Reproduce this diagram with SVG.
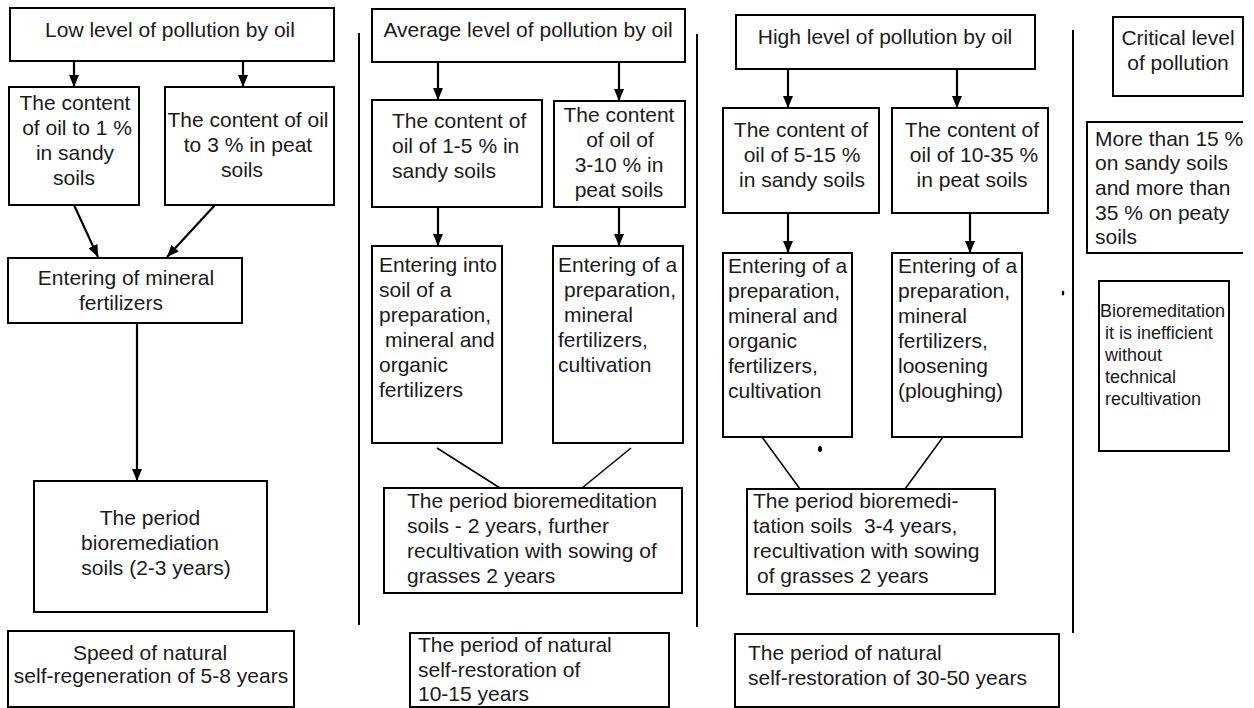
<svg xmlns="http://www.w3.org/2000/svg" width="1254" height="708" viewBox="0 0 1254 708">
<defs>
<marker id="ah" viewBox="0 0 12 10" refX="12" refY="5" markerWidth="12" markerHeight="10" markerUnits="userSpaceOnUse" orient="auto"><path d="M0,0 L12,5 L0,10 z" fill="#000"/></marker>
<style>
.b{fill:#fff;stroke:#000;stroke-width:2}
.t{font-family:"Liberation Sans",Arial,sans-serif;font-size:21px;fill:#1a1a1a}
.c{text-anchor:middle}
.s{font-size:18px}
.a{stroke:#000;stroke-width:2.2;fill:none;marker-end:url(#ah)}
.l{stroke:#000;stroke-width:1.5;fill:none}
.d{stroke:#000;stroke-width:2;fill:none}
</style>
</defs>
<rect width="1254" height="708" fill="#fff"/>
<g id="dividers">
<line class="d" x1="359" y1="33" x2="359" y2="625"/>
<line class="d" x1="697" y1="34" x2="697" y2="627"/>
<line class="d" x1="1073" y1="30" x2="1073" y2="633"/>
</g>
<g id="connectors">
<line class="a" x1="74" y1="61" x2="74" y2="87"/>
<line class="a" x1="243" y1="61" x2="243" y2="87"/>
<line class="a" x1="74" y1="205" x2="98" y2="257"/>
<line class="a" x1="215" y1="205" x2="167" y2="257"/>
<line class="a" x1="137" y1="323" x2="137" y2="481"/>
<line class="a" x1="438" y1="62" x2="438" y2="100"/>
<line class="a" x1="619" y1="62" x2="619" y2="101"/>
<line class="a" x1="438" y1="207" x2="438" y2="246"/>
<line class="a" x1="619" y1="207" x2="619" y2="246"/>
<line class="l" x1="437" y1="448" x2="500" y2="488"/>
<line class="l" x1="631" y1="448" x2="582" y2="488"/>
<line class="a" x1="788" y1="69" x2="788" y2="108"/>
<line class="a" x1="957" y1="69" x2="957" y2="108"/>
<line class="a" x1="788" y1="213" x2="788" y2="253"/>
<line class="a" x1="970" y1="213" x2="970" y2="253"/>
<line class="l" x1="762" y1="437" x2="800" y2="489"/>
<line class="l" x1="943" y1="437" x2="905" y2="489"/>
</g>
<g id="n_low"><rect class="b" x="10" y="8" width="324" height="53"/><text class="t c" x="170" y="37">Low level of pollution by oil</text></g>
<g id="n_low_sandy"><rect class="b" x="9" y="87" width="130" height="118"/><text class="t c"><tspan x="75" y="110">The content</tspan><tspan x="77" y="135">of oil to 1 %</tspan><tspan x="75" y="160">in sandy</tspan><tspan x="74" y="185">soils</tspan></text></g>
<g id="n_low_peat"><rect class="b" x="165" y="87" width="169" height="118"/><text class="t c"><tspan x="248" y="127">The content of oil</tspan><tspan x="248" y="152">to 3 % in peat</tspan><tspan x="242" y="177">soils</tspan></text></g>
<g id="n_low_fert"><rect class="b" x="8" y="258" width="234" height="65"/><text class="t c"><tspan x="126" y="285">Entering of mineral</tspan><tspan x="121" y="310">fertilizers</tspan></text></g>
<g id="n_low_period"><rect class="b" x="34" y="481" width="233" height="131"/><text class="t c"><tspan x="150" y="525">The period</tspan><tspan x="150" y="550">bioremediation</tspan><tspan x="156" y="575">soils (2-3 years)</tspan></text></g>
<g id="n_low_natural"><rect class="b" x="8" y="631" width="286" height="76"/><text class="t c"><tspan x="150" y="660">Speed of natural</tspan><tspan x="151" y="683">self-regeneration of 5-8 years</tspan></text></g>
<g id="n_avg"><rect class="b" x="372" y="9" width="313" height="53"/><text class="t c" x="528" y="37">Average level of pollution by oil</text></g>
<g id="n_avg_sandy"><rect class="b" x="372" y="100" width="170" height="107"/><text class="t"><tspan x="392" y="128">The content of</tspan><tspan x="392" y="153">oil of 1-5 % in</tspan><tspan x="392" y="178">sandy soils</tspan></text></g>
<g id="n_avg_peat"><rect class="b" x="554" y="101" width="131" height="106"/><text class="t c"><tspan x="619" y="122">The content</tspan><tspan x="620" y="147">of oil of</tspan><tspan x="619" y="172">3-10 % in</tspan><tspan x="619" y="197">peat soils</tspan></text></g>
<g id="n_avg_enter1"><rect class="b" x="372" y="246" width="130" height="197"/><text class="t"><tspan x="379" y="272">Entering into</tspan><tspan x="379" y="297">soil of a</tspan><tspan x="379" y="322">preparation,</tspan><tspan x="385" y="347">mineral and</tspan><tspan x="379" y="372">organic</tspan><tspan x="379" y="397">fertilizers</tspan></text></g>
<g id="n_avg_enter2"><rect class="b" x="553" y="246" width="130" height="197"/><text class="t"><tspan x="558" y="272">Entering of a</tspan><tspan x="564" y="297">preparation,</tspan><tspan x="564" y="322">mineral</tspan><tspan x="558" y="347">fertilizers,</tspan><tspan x="558" y="372">cultivation</tspan></text></g>
<g id="n_avg_period"><rect class="b" x="384" y="488" width="298" height="105"/><text class="t"><tspan x="407" y="508">The period bioremeditation</tspan><tspan x="407" y="533">soils - 2 years, further</tspan><tspan x="407" y="558">recultivation with sowing of</tspan><tspan x="407" y="583">grasses 2 years</tspan></text></g>
<g id="n_avg_natural"><rect class="b" x="410" y="633" width="259" height="74"/><text class="t"><tspan x="418" y="652">The period of natural</tspan><tspan x="418" y="677">self-restoration of</tspan><tspan x="418" y="701">10-15 years</tspan></text></g>
<g id="n_high"><rect class="b" x="736" y="15" width="299" height="54"/><text class="t c" x="885" y="44">High level of pollution by oil</text></g>
<g id="n_high_sandy"><rect class="b" x="723" y="108" width="156" height="105"/><text class="t c"><tspan x="801" y="137">The content of</tspan><tspan x="802" y="162">oil of 5-15 %</tspan><tspan x="802" y="187">in sandy soils</tspan></text></g>
<g id="n_high_peat"><rect class="b" x="892" y="108" width="156" height="105"/><text class="t c"><tspan x="972" y="137">The content of</tspan><tspan x="974" y="162">oil of 10-35 %</tspan><tspan x="972" y="187">in peat soils</tspan></text></g>
<g id="n_high_enter1"><rect class="b" x="723" y="253" width="129" height="184"/><text class="t"><tspan x="728" y="273">Entering of a</tspan><tspan x="728" y="298">preparation,</tspan><tspan x="728" y="323">mineral and</tspan><tspan x="728" y="348">organic</tspan><tspan x="728" y="373">fertilizers,</tspan><tspan x="728" y="398">cultivation</tspan></text></g>
<g id="n_high_enter2"><rect class="b" x="892" y="253" width="130" height="184"/><text class="t"><tspan x="898" y="273">Entering of a</tspan><tspan x="898" y="298">preparation,</tspan><tspan x="898" y="323">mineral</tspan><tspan x="898" y="348">fertilizers,</tspan><tspan x="898" y="373">loosening</tspan><tspan x="898" y="398">(ploughing)</tspan></text></g>
<g id="n_high_period"><rect class="b" x="747" y="489" width="248" height="105"/><text class="t" xml:space="preserve"><tspan x="753" y="508">The period bioremedi-</tspan><tspan x="753" y="533">tation soils  3-4 years,</tspan><tspan x="753" y="558">recultivation with sowing</tspan><tspan x="757" y="583">of grasses 2 years</tspan></text></g>
<g id="n_high_natural"><rect class="b" x="735" y="634" width="324" height="73"/><text class="t"><tspan x="748" y="660">The period of natural</tspan><tspan x="748" y="685">self-restoration of 30-50 years</tspan></text></g>
<g id="n_crit"><rect class="b" x="1113" y="17" width="130" height="79"/><text class="t c"><tspan x="1178" y="45">Critical level</tspan><tspan x="1178" y="70">of pollution</tspan></text></g>
<g id="n_crit_content"><path class="b" d="M1243,122 H1087 V253 H1243"/><text class="t"><tspan x="1095" y="146">More than 15 %</tspan><tspan x="1095" y="170">on sandy soils</tspan><tspan x="1095" y="195">and more than</tspan><tspan x="1095" y="220">35 % on peaty</tspan><tspan x="1095" y="244">soils</tspan></text></g>
<g id="n_crit_bio"><rect class="b" x="1099" y="281" width="130" height="170"/><text class="t s"><tspan x="1100" y="317">Bioremeditation</tspan><tspan x="1105" y="339">it is inefficient</tspan><tspan x="1105" y="361">without</tspan><tspan x="1105" y="383">technical</tspan><tspan x="1105" y="405">recultivation</tspan></text></g>
<g id="specks"><ellipse cx="820" cy="449" rx="2" ry="3" fill="#000"/><ellipse cx="1063" cy="293" rx="1.3" ry="2.5" fill="#000"/></g>
</svg>
